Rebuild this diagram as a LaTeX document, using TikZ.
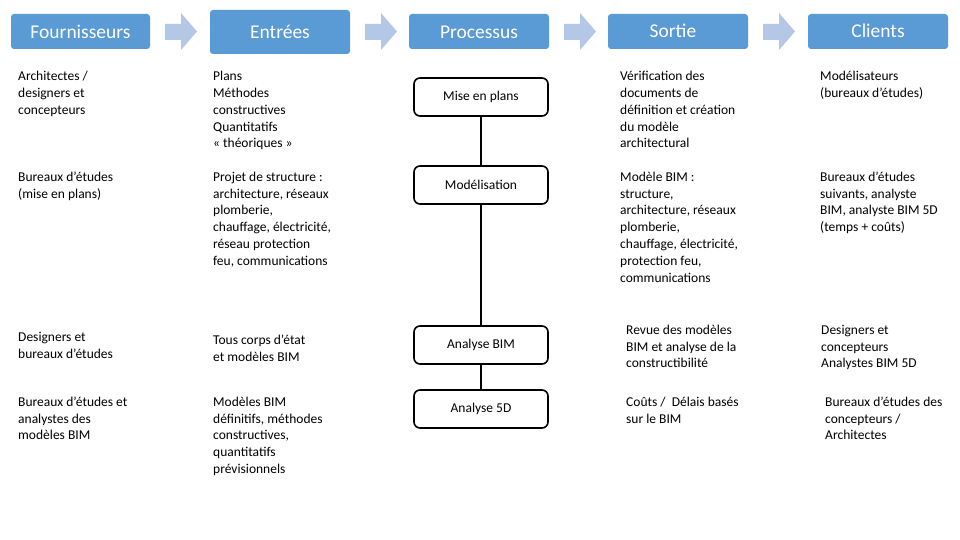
\documentclass[tikz,border=0pt]{standalone}
\usepackage{fontspec}
\setmainfont{Carlito}
\definecolor{hdrblue}{HTML}{5B9BD5}
\definecolor{arrblue}{HTML}{B4C7E7}
\newcommand{\tstrut}{\rule{0pt}{11pt}}
\begin{document}
\begin{tikzpicture}[x=1pt,y=-1pt,
  hdr/.style={fill=hdrblue,rounded corners=3pt},
  hdrtext/.style={text=white,inner sep=0pt,font=\fontsize{19.5}{21}\selectfont},
  hdrarrow/.style={fill=arrblue},
  procbox/.style={draw=black,line width=1.6pt,rounded corners=6pt,minimum width=134pt,minimum height=38pt,inner sep=0pt,font=\fontsize{13.5}{15}\selectfont},
  proclink/.style={line width=1.5pt},
  cell/.style={anchor=north west,align=left,inner sep=0pt,font=\fontsize{13.5}{16.8}\selectfont}]
\useasboundingbox (0,0) rectangle (960,540);
\fill[white] (0,0) rectangle (960,540);
% header boxes
\path[hdr] (11,14) rectangle (150,49);
\node[hdrtext] (hf) at (80.5,31.5) {Fournisseurs};
\path[hdr] (210,10) rectangle (350,54);
\node[hdrtext] (he) at (280,32) {Entrées};
\path[hdr] (409,14) rectangle (549,49);
\node[hdrtext] (hp) at (479,32) {Processus};
\path[hdr] (608,14) rectangle (748,49);
\node[hdrtext] (hs) at (673,30.5) {Sortie};
\path[hdr] (808,14) rectangle (948,49);
\node[hdrtext] (hc) at (878,30.5) {Clients};
% header arrows
\foreach \xa in {165,365,564,763}{
  \fill[hdrarrow] (\xa,24) -- (\xa+16,24) -- (\xa+16,13) -- (\xa+32,31.5) -- (\xa+16,50) -- (\xa+16,40) -- (\xa,40) -- cycle;
}
% process boxes
\node[procbox] (mp) at (481,97) {Mise en plans};
\node[procbox] (mo) at (481,185) {Modélisation};
\node[procbox] (ab) at (481,345) {Analyse BIM};
\node[procbox] (a5) at (481,409) {Analyse 5D};
\draw[proclink] (mp) -- (mo);
\draw[proclink] (mo) -- (ab);
\draw[proclink] (ab) -- (a5);
% column 1
\node[cell] (f1) at (18,69.5) {\tstrut Architectes /\\designers et\\concepteurs};
\node[cell] (f2) at (18,170) {\tstrut Bureaux d’études\\(mise en plans)};
\node[cell] (f3) at (18,330) {\tstrut Designers et\\bureaux d’études};
\node[cell] (f4) at (18,395) {\tstrut Bureaux d’études et\\analystes des\\modèles BIM};
% column 2
\node[cell] (e1) at (213,69.5) {\tstrut Plans\\Méthodes\\constructives\\Quantitatifs\\« théoriques »};
\node[cell] (e2) at (213,170) {\tstrut Projet de structure :\\architecture, réseaux\\plomberie,\\chauffage, électricité,\\réseau protection\\feu, communications};
\node[cell] (e3) at (213,333) {\tstrut Tous corps d’état\\et modèles BIM};
\node[cell] (e4) at (213,395) {\tstrut Modèles BIM\\définitifs, méthodes\\constructives,\\quantitatifs\\prévisionnels};
% column 4
\node[cell] (s1) at (620,69.5) {\tstrut Vérification des\\documents de\\définition et création\\du modèle\\architectural};
\node[cell] (s2) at (620,170) {\tstrut Modèle BIM :\\structure,\\architecture, réseaux\\plomberie,\\chauffage, électricité,\\protection feu,\\communications};
\node[cell] (s3) at (626,323) {\tstrut Revue des modèles\\BIM et analyse de la\\constructibilité};
\node[cell] (s4) at (626,395) {\tstrut Coûts /\ \ Délais basés\\sur le BIM};
% column 5
\node[cell] (c1) at (820,69.5) {\tstrut Modélisateurs\\(bureaux d’études)};
\node[cell] (c2) at (820,170) {\tstrut Bureaux d’études\\suivants, analyste\\BIM, analyste BIM 5D\\(temps + coûts)};
\node[cell] (c3) at (821,323) {\tstrut Designers et\\concepteurs\\Analystes BIM 5D};
\node[cell] (c4) at (825,395) {\tstrut Bureaux d’études des\\concepteurs /\\Architectes};
\end{tikzpicture}
\end{document}
